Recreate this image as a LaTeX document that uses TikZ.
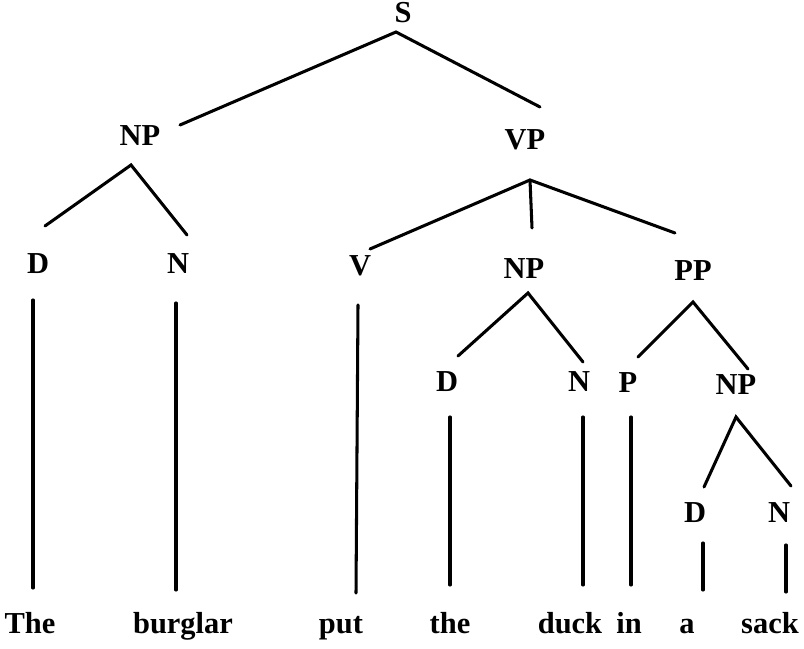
\documentclass[tikz,border=0pt]{standalone}
\usepackage{fontspec}
\setmainfont{Liberation Serif}
\usepackage{tikz}

\tikzset{
  cat/.style={font=\fontsize{26}{30}\selectfont\bfseries, inner sep=0pt, text height=0.66em, text depth=0pt},
  word/.style={font=\fontsize{26}{30}\selectfont\bfseries, inner sep=0pt, anchor=base},
  branch/.style={line width=2.6pt, line cap=round}
}

\begin{document}
\begin{tikzpicture}[x=0.3mm, y=-0.3mm]
    \useasboundingbox (0,0) rectangle (804,649);
    % categories
    \node[cat] (s)   at (403,19)  {S};
    \node[cat] (np1) at (140,142) {NP};
    \node[cat] (vp)  at (525,146) {VP};
    \node[cat] (d1)  at (38,270)  {D};
    \node[cat] (n1)  at (178,270) {N};
    \node[cat] (v)   at (360,272) {V};
    \node[cat] (np2) at (524,275) {NP};
    \node[cat] (pp)  at (693,277) {PP};
    \node[cat] (d2)  at (447,388) {D};
    \node[cat] (n2)  at (579,388) {N};
    \node[cat] (p)   at (628,389) {P};
    \node[cat] (np3) at (736,391) {NP};
    \node[cat] (d3)  at (695,519) {D};
    \node[cat] (n3)  at (779,519) {N};
    % words
    \node[word] (the1)    at (30,633)  {The};
    \node[word] (burglar) at (183,633) {burglar};
    \node[word] (put)     at (341,633) {put};
    \node[word] (the2)    at (450,633) {the};
    \node[word] (duck)    at (570,633) {duck};
    \node[word] (in)      at (629,633) {in};
    \node[word] (a)       at (687,633) {a};
    \node[word] (sack)    at (770,633) {sack};
    % branches
    \draw[branch] ([shift={(40,-17)}]np1.center) -- ([shift={(-7,13)}]s.center) -- ([shift={(15,-39)}]vp.center);
    \draw[branch] ([shift={(7,-44)}]d1.center) -- ([shift={(-9,23)}]np1.center) -- ([shift={(9,-35)}]n1.center);
    \draw[branch] ([shift={(10,-23)}]v.center) -- ([shift={(5,34)}]vp.center) -- ([shift={(-18,-44)}]pp.center);
    \draw[branch] ([shift={(5,34)}]vp.center) -- ([shift={(8,-47)}]np2.center);
    \draw[branch] ([shift={(11,-32)}]d2.center) -- ([shift={(4,18)}]np2.center) -- ([shift={(4,-26)}]n2.center);
    \draw[branch] ([shift={(10,-32)}]p.center) -- ([shift={(0,25)}]pp.center) -- ([shift={(12,-22)}]np3.center);
    \draw[branch] ([shift={(9,-32)}]d3.center) -- ([shift={(0,26)}]np3.center) -- ([shift={(12,-33)}]n3.center);
    % leaves
    \draw[branch] ([shift={(-5,30)}]d1.center) -- ([shift={(3,-45)}]the1.base);
    \draw[branch] ([shift={(-2,33)}]n1.center) -- ([shift={(-7,-43)}]burglar.base);
    \draw[branch] ([shift={(-2,33)}]v.center)  -- ([shift={(15,-40)}]put.base);
    \draw[branch] ([shift={(3,29)}]d2.center)  -- ([shift={(0,-48)}]the2.base);
    \draw[branch] ([shift={(4,29)}]n2.center)  -- ([shift={(13,-48)}]duck.base);
    \draw[branch] ([shift={(3,28)}]p.center)   -- ([shift={(2,-48)}]in.base);
    \draw[branch] ([shift={(8,24)}]d3.center)  -- ([shift={(16,-43)}]a.base);
    \draw[branch] ([shift={(7,26)}]n3.center)  -- ([shift={(16,-41)}]sack.base);
\end{tikzpicture}
\end{document}
